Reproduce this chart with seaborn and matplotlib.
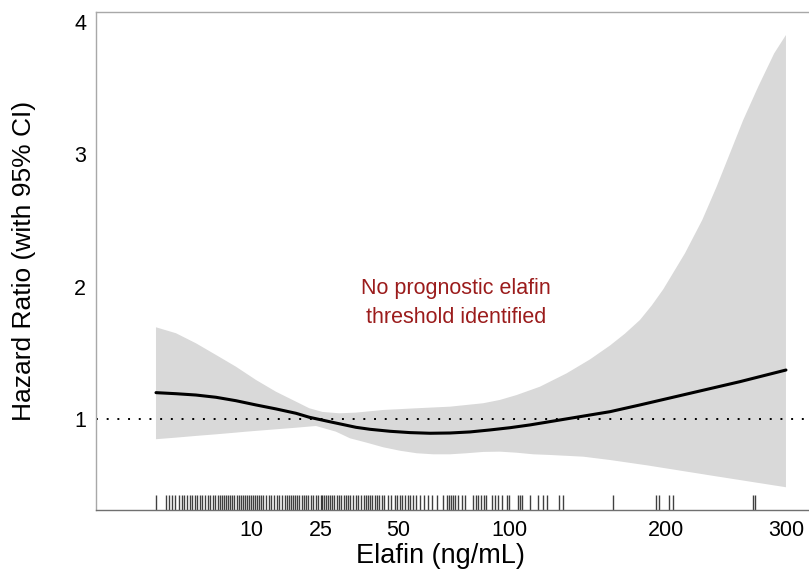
import numpy as np
import pandas as pd
import matplotlib
matplotlib.use("Agg")
import matplotlib.pyplot as plt
import seaborn as sns

# ---- data ----
curve_x = [0.419, 1.385, 2.911, 4.998, 7.645, 10.853, 14.621, 18.950, 22.139, 27.400, 35.299, 39.839,
           46.802, 54.326, 62.410, 71.055, 80.258, 90.024, 100.350, 111.237, 122.685, 134.690, 147.258,
           160.387, 181.131, 218.50, 259.38, 300.086]
curve_hr = [1.199, 1.191, 1.181, 1.164, 1.138, 1.106, 1.076, 1.043, 1.013, 0.980, 0.937, 0.922,
            0.907, 0.897, 0.892, 0.894, 0.902, 0.917, 0.934, 0.955, 0.980, 1.005, 1.030,
            1.055, 1.106, 1.194, 1.282, 1.370]

upper_x = [0.419, 1.385, 2.911, 4.998, 7.645, 10.853, 14.621, 18.950, 22.139, 25.601, 30.241, 35.299,
           44.408, 56.971, 71.055, 86.691, 95.117, 103.934, 116.89, 132.669, 147.258, 160.387, 170.60,
           181.131, 189.78, 198.11, 214.61, 228.24, 239.90, 250.93, 262.20, 275.22, 289.45, 300.086]
upper_hr = [1.693, 1.648, 1.572, 1.484, 1.395, 1.295, 1.206, 1.131, 1.081, 1.053, 1.043, 1.048,
            1.068, 1.081, 1.093, 1.119, 1.144, 1.181, 1.244, 1.345, 1.45, 1.555, 1.645,
            1.748, 1.86, 1.98, 2.252, 2.504, 2.756, 3.008, 3.260, 3.512, 3.764, 3.902]

lower_x = [0.419, 1.385, 2.911, 4.998, 7.645, 9.18, 14.621, 18.950, 23.839, 29.289, 33.437, 38.744,
           44.408, 50.494, 56.971, 63.797, 71.055, 78.702, 86.691, 95.117, 103.934, 113.086, 122.685,
           142.987, 160.387, 185.935, 237.117, 300.086]
lower_hr = [0.847, 0.859, 0.872, 0.884, 0.897, 0.904, 0.922, 0.934, 0.947, 0.904, 0.854, 0.821,
            0.786, 0.760, 0.741, 0.733, 0.733, 0.741, 0.751, 0.753, 0.745, 0.733, 0.728,
            0.715, 0.690, 0.650, 0.570, 0.484]

rug_x = [0.41, 0.83, 1.00, 1.16, 1.34, 1.58, 1.76, 1.95, 2.18, 2.39, 2.59, 2.82, 2.97, 3.28, 3.48, 3.81,
         4.06, 4.31, 4.62, 4.88, 5.20, 5.48, 5.73, 5.99, 6.25, 6.52, 6.79, 7.07, 7.35, 7.75, 8.05, 8.35,
         8.66, 8.97, 9.29, 9.62, 9.95, 10.28, 10.63, 10.98, 11.33, 11.69, 12.16, 12.67, 13.18, 13.68,
         14.22, 14.76, 15.30, 15.86, 16.43, 17.00, 17.37, 17.82, 18.26, 18.72, 19.18, 19.65, 20.29,
         20.77, 21.25, 21.89, 22.56, 23.07, 23.76, 24.44, 25.15, 25.50, 26.03, 26.58, 27.12, 27.68,
         28.24, 28.80, 29.58, 30.15, 30.74, 31.54, 32.31, 32.92, 33.53, 34.36, 35.20, 36.03, 36.89,
         37.76, 38.42, 39.07, 39.94, 40.61, 41.53, 42.21, 42.90, 43.84, 44.55, 46.19, 47.17, 48.63,
         49.37, 50.38, 51.36, 52.39, 53.43, 54.44, 55.50, 56.57, 58.30, 60.05, 61.70, 63.12, 65.24,
         67.83, 69.59, 70.47, 71.37, 72.26, 73.44, 74.81, 76.37, 77.91, 81.69, 83.13, 84.10, 85.56,
         87.04, 88.03, 90.88, 92.55, 94.24, 96.00, 98.61, 99.98, 104.80, 105.72, 106.65, 111.24,
         115.92, 118.79, 120.76, 128.20, 130.61, 162.61, 192.71, 195.14, 202.61, 205.18, 270.85, 272.59]

x_ticks = [10, 25, 50, 100, 200, 300]
y_ticks = [1, 2, 3, 4]
annotation = "No prognostic elafin\nthreshold identified"

# ---- plotting ----
sns.set_style("white")
plt.rcParams["font.family"] = ["Liberation Sans", "DejaVu Sans"]

fig = plt.figure(figsize=(8.09, 5.72), dpi=100)
ax = fig.add_axes([96 / 809, 1 - 510 / 572, 1 - 96 / 809, (510 - 12) / 572])


def fwd(v):
    v = np.asarray(v, dtype=float)
    return np.sign(v) * np.sqrt(np.abs(v))


def inv(v):
    v = np.asarray(v, dtype=float)
    return np.sign(v) * v ** 2


ax.set_xscale("function", functions=(fwd, inv))

poly_x = upper_x + lower_x[::-1]
poly_y = upper_hr + lower_hr[::-1]
ax.fill(poly_x, poly_y, color="#d9d9d9", lw=0, zorder=1)

ax.axhline(1, color="black", lw=1.4, ls=(0, (1, 4.5)), zorder=2)

curve_df = pd.DataFrame({"x": curve_x, "hr": curve_hr})
sns.lineplot(data=curve_df, x="x", y="hr", color="black", lw=2.2, ax=ax, zorder=3, sort=False)

sns.rugplot(x=rug_x, height=0.03, color="black", alpha=0.75, lw=1.1, ax=ax)

ax.text(73.8, 1.877, annotation, color="#9b1c1c", fontsize=15.5, ha="center", va="center",
        linespacing=1.55)

ax.set_xlim(-0.885, 321.6)
ax.set_ylim(0.312, 4.076)
ax.set_xticks(x_ticks)
ax.set_xticklabels([str(t) for t in x_ticks])
ax.set_yticks(y_ticks)
ax.set_yticklabels([str(t) for t in y_ticks])
ax.minorticks_off()

ax.tick_params(axis="both", which="major", length=3, width=1.2, color="#222222",
               labelsize=15.5, labelcolor="black", pad=4, direction="out")

ax.set_xlabel("Elafin (ng/mL)", fontsize=19.5, color="black")
ax.set_ylabel("Hazard Ratio (with 95% CI)", fontsize=19, color="black")
ax.xaxis.set_label_coords((440 - 96) / 713, -0.066)
ax.yaxis.set_label_coords(-0.084, 0.5)

for side in ["left", "top", "bottom"]:
    ax.spines[side].set_visible(True)
    ax.spines[side].set_color("#a8a8a8")
    ax.spines[side].set_linewidth(1.0)
ax.spines["bottom"].set_color("#707070")
ax.spines["right"].set_visible(False)

fig.savefig("out.png", dpi=100)
